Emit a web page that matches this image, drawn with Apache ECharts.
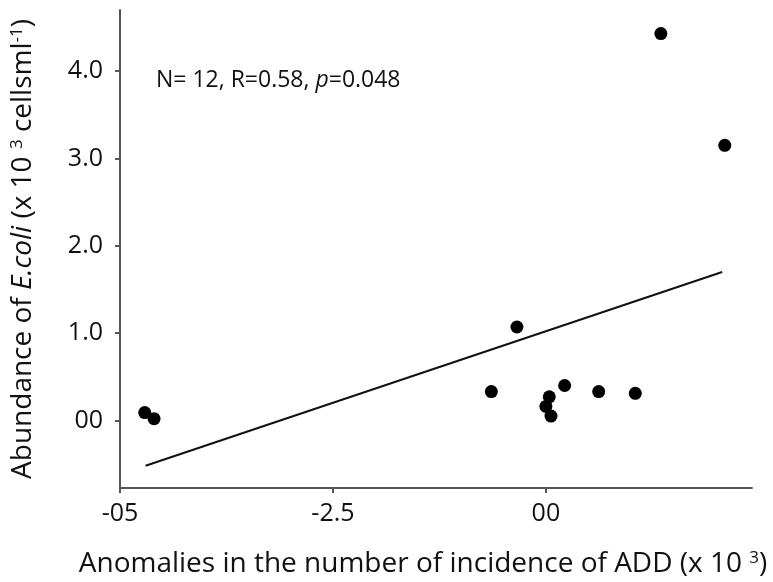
<!DOCTYPE html>
<html>
<head>
<meta charset="utf-8">
<script src="https://cdn.jsdelivr.net/npm/echarts@6/dist/echarts.min.js"></script>
<style>
html,body{margin:0;padding:0;background:#fff;}
#c{width:773px;height:582px;}
</style>
</head>
<body>
<div id="c"></div>
<script>
// Data
var pointsX = [1.35, 2.10, -0.34, -0.64, 0.22, 0.62, 1.05, 0.04, 0.00, 0.06, -4.71, -4.60];
var pointsY = [4.43, 3.15, 1.07, 0.33, 0.40, 0.33, 0.31, 0.27, 0.16, 0.05, 0.09, 0.02];
var fitX = [-4.70, 2.07];
var fitY = [-0.52, 1.70];
var xTickValues = [-5, -2.5, 0];
var xTickLabels = ['-05', '-2.5', '00'];
var yTickValues = [0, 1, 2, 3, 4];
var yTickLabels = ['00', '1.0', '2.0', '3.0', '4.0'];

var FONT = 'Open Sans';
function labelFor(values, labels) {
  return function (v) {
    for (var i = 0; i < values.length; i++) {
      if (Math.abs(values[i] - v) < 1e-6) return labels[i];
    }
    return '';
  };
}
var scatterData = pointsX.map(function (x, i) { return [x, pointsY[i]]; });
var fitData = fitX.map(function (x, i) { return [x, fitY[i]]; });

var chart = echarts.init(document.getElementById('c'), null, {renderer: 'canvas'});
var axisLineStyle = {color: '#555', width: 2};
chart.setOption({
  animation: false,
  backgroundColor: '#fff',
  grid: {left: 120, right: 21, top: 10, bottom: 94, containLabel: false, outerBoundsMode: 'none'},
  xAxis: {
    type: 'value',
    min: -5, max: 2.42,
    splitLine: {show: false},
    axisLine: {show: true, onZero: false, lineStyle: axisLineStyle},
    axisTick: {show: true, length: 5, lineStyle: axisLineStyle, customValues: xTickValues},
    axisLabel: {customValues: xTickValues, formatter: labelFor(xTickValues, xTickLabels),
      color: '#111', fontFamily: FONT, fontSize: 25, margin: 13},
    name: '{t|Anomalies in the number of incidence of ADD (x 10 }{s|3}{t|)}',
    nameLocation: 'middle',
    nameGap: 62,
    nameTextStyle: {
      padding: [0, 26, 0, 0],
      rich: {
        t: {fontFamily: FONT, fontSize: 28, color: '#111'},
        s: {fontFamily: FONT, fontSize: 17, color: '#111', verticalAlign: 'top'}
      }
    }
  },
  yAxis: {
    type: 'value',
    min: -0.774, max: 4.70,
    splitLine: {show: false},
    axisLine: {show: true, onZero: false, lineStyle: axisLineStyle},
    axisTick: {show: true, length: 5, lineStyle: axisLineStyle, customValues: yTickValues},
    axisLabel: {customValues: yTickValues, formatter: labelFor(yTickValues, yTickLabels),
      color: '#111', fontFamily: FONT, fontSize: 25, margin: 17},
    name: '{t|Abundance of }{i|E.coli}{t| (x 10 }{s|3}{t| cellsml}{s|-1}{t|)}',
    nameLocation: 'middle',
    nameRotate: 90,
    nameGap: 73,
    nameTextStyle: {
      padding: [0, 0, 10, 0],
      rich: {
        t: {fontFamily: FONT, fontSize: 28, color: '#111'},
        i: {fontFamily: FONT, fontSize: 28, color: '#111', fontStyle: 'italic'},
        s: {fontFamily: FONT, fontSize: 17, color: '#111', verticalAlign: 'top'}
      }
    }
  },
  graphic: [{
    type: 'text',
    left: 156, top: 69,
    style: {
      text: '{t|N= 12, R=0.58, }{i|p}{t|=0.048}',
      rich: {
        t: {fontFamily: FONT, fontSize: 23, fill: '#111'},
        i: {fontFamily: FONT, fontSize: 23, fill: '#111', fontStyle: 'italic'}
      }
    }
  }],
  series: [
    {
      type: 'line',
      data: fitData,
      symbol: 'none',
      lineStyle: {color: '#111', width: 2},
      z: 2
    },
    {
      type: 'scatter',
      data: scatterData,
      symbol: 'circle',
      symbolSize: 13,
      itemStyle: {color: '#000', opacity: 1},
      z: 3
    }
  ]
});
</script>
</body>
</html>
